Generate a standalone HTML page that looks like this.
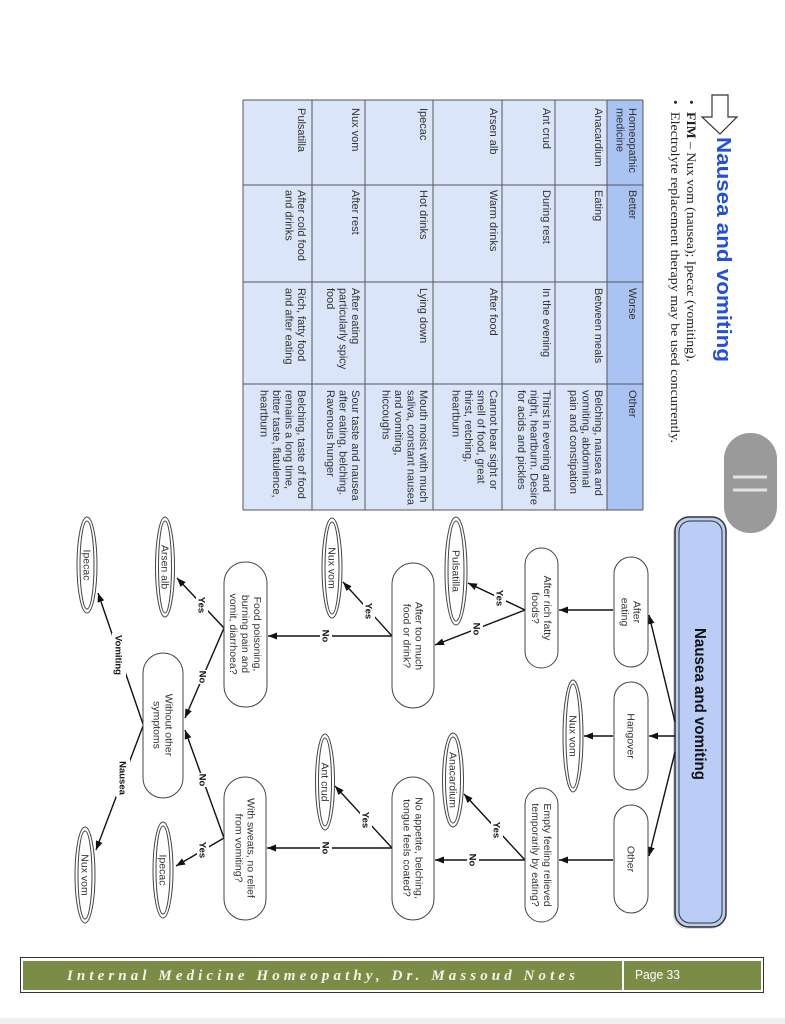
<!DOCTYPE html>
<html>
<head>
<meta charset="utf-8">
<style>
html,body{margin:0;padding:0;background:#fff;}
body{width:785px;height:1024px;overflow:hidden;position:relative;}
svg{display:block;}
.t{font-family:"Liberation Sans",sans-serif;font-size:11px;fill:#333;}
.n{font-family:"Liberation Sans",sans-serif;font-size:10.5px;fill:#333;}
.l{font-family:"Liberation Sans",sans-serif;font-size:9.5px;font-weight:bold;fill:#111;}
.s{font-family:"Liberation Serif",serif;font-size:13px;fill:#222;}
</style>
</head>
<body>
<svg width="785" height="1024" viewBox="0 0 785 1024" xmlns="http://www.w3.org/2000/svg">
<defs>
<marker id="a" markerWidth="9" markerHeight="7" refX="9" refY="3.5" orient="auto" markerUnits="userSpaceOnUse">
<path d="M0,0 L9,3.5 L0,7 z" fill="#111"/>
</marker>
</defs>
<rect x="0" y="1018" width="785" height="6" fill="#f0f0f0"/>

<!-- heading arrow -->
<path d="M712,95 L728,95 L728,117 L737,117 L720,134 L702,117 L712,117 Z" fill="#fff" stroke="#333" stroke-width="1.2"/>
<!-- title -->
<text transform="translate(717,137) rotate(90)" font-family="Liberation Sans, sans-serif" font-weight="bold" font-size="20" fill="#2350d8" textLength="225" lengthAdjust="spacingAndGlyphs">Nausea and vomiting</text>
<!-- bullets -->
<text transform="translate(687,100) rotate(90)" class="s">•</text>
<text transform="translate(687,112) rotate(90)" class="s" textLength="250" lengthAdjust="spacingAndGlyphs"><tspan font-weight="bold">FIM</tspan> – Nux vom (nausea); Ipecac (vomiting).</text>
<text transform="translate(671,100) rotate(90)" class="s">•</text>
<text transform="translate(671,112) rotate(90)" class="s" textLength="331" lengthAdjust="spacingAndGlyphs">Electrolyte replacement therapy may be used concurrently.</text>

<!-- table -->
<rect x="243" y="100" width="364" height="410" fill="#dbe5f9"/>
<rect x="607" y="100" width="36" height="410" fill="#a9c3f3"/>
<g stroke="#555" stroke-width="1">
<line x1="243" y1="100" x2="243" y2="510"/>
<line x1="312" y1="100" x2="312" y2="510"/>
<line x1="365" y1="100" x2="365" y2="510"/>
<line x1="433" y1="100" x2="433" y2="510"/>
<line x1="502" y1="100" x2="502" y2="510"/>
<line x1="555" y1="100" x2="555" y2="510"/>
<line x1="607" y1="100" x2="607" y2="510"/>
<line x1="643" y1="100" x2="643" y2="510"/>
<line x1="243" y1="100" x2="643" y2="100"/>
<line x1="243" y1="185" x2="643" y2="185"/>
<line x1="243" y1="282" x2="643" y2="282"/>
<line x1="243" y1="384" x2="643" y2="384"/>
<line x1="243" y1="510" x2="643" y2="510"/>
</g>
<!-- header -->
<text transform="translate(629,108) rotate(90)" class="t"><tspan x="0" y="0">Homeopathic</tspan><tspan x="0" y="12.5">medicine</tspan></text>
<text transform="translate(629,190) rotate(90)" class="t">Better</text>
<text transform="translate(629,288) rotate(90)" class="t">Worse</text>
<text transform="translate(629,390) rotate(90)" class="t">Other</text>
<!-- Anacardium -->
<text transform="translate(595,108) rotate(90)" class="t">Anacardium</text>
<text transform="translate(595,190) rotate(90)" class="t">Eating</text>
<text transform="translate(595,288) rotate(90)" class="t">Between meals</text>
<text transform="translate(595,390) rotate(90)" class="t"><tspan x="0" y="0">Belching, nausea and</tspan><tspan x="0" y="12.5">vomiting, abdominal</tspan><tspan x="0" y="25">pain and constipation</tspan></text>
<!-- Ant crud -->
<text transform="translate(543,108) rotate(90)" class="t">Ant crud</text>
<text transform="translate(543,190) rotate(90)" class="t">During rest</text>
<text transform="translate(543,288) rotate(90)" class="t">In the evening</text>
<text transform="translate(543,390) rotate(90)" class="t"><tspan x="0" y="0">Thirst in evening and</tspan><tspan x="0" y="12.5">night, heartburn. Desire</tspan><tspan x="0" y="25">for acids and pickles</tspan></text>
<!-- Arsen alb -->
<text transform="translate(490,108) rotate(90)" class="t">Arsen alb</text>
<text transform="translate(490,190) rotate(90)" class="t">Warm drinks</text>
<text transform="translate(490,288) rotate(90)" class="t">After food</text>
<text transform="translate(490,390) rotate(90)" class="t"><tspan x="0" y="0">Cannot bear sight or</tspan><tspan x="0" y="12.5">smell of food, great</tspan><tspan x="0" y="25">thirst, retching,</tspan><tspan x="0" y="37.5">heartburn</tspan></text>
<!-- Ipecac -->
<text transform="translate(420,108) rotate(90)" class="t">Ipecac</text>
<text transform="translate(420,190) rotate(90)" class="t">Hot drinks</text>
<text transform="translate(420,288) rotate(90)" class="t">Lying down</text>
<text transform="translate(420,390) rotate(90)" class="t"><tspan x="0" y="0">Mouth moist with much</tspan><tspan x="0" y="12.5">saliva, constant nausea</tspan><tspan x="0" y="25">and vomiting,</tspan><tspan x="0" y="37.5">hiccoughs</tspan></text>
<!-- Nux vom -->
<text transform="translate(352,108) rotate(90)" class="t">Nux vom</text>
<text transform="translate(352,190) rotate(90)" class="t">After rest</text>
<text transform="translate(352,288) rotate(90)" class="t"><tspan x="0" y="0">After eating</tspan><tspan x="0" y="12.5">particularly spicy</tspan><tspan x="0" y="25">food</tspan></text>
<text transform="translate(352,390) rotate(90)" class="t"><tspan x="0" y="0">Sour taste and nausea</tspan><tspan x="0" y="12.5">after eating, belching.</tspan><tspan x="0" y="25">Ravenous hunger</tspan></text>
<!-- Pulsatilla -->
<text transform="translate(298,108) rotate(90)" class="t">Pulsatilla</text>
<text transform="translate(298,190) rotate(90)" class="t"><tspan x="0" y="0">After cold food</tspan><tspan x="0" y="12.5">and drinks</tspan></text>
<text transform="translate(298,288) rotate(90)" class="t"><tspan x="0" y="0">Rich, fatty food</tspan><tspan x="0" y="12.5">and after eating</tspan></text>
<text transform="translate(298,390) rotate(90)" class="t"><tspan x="0" y="0">Belching, taste of food</tspan><tspan x="0" y="12.5">remains a long time,</tspan><tspan x="0" y="25">bitter taste, flatulence,</tspan><tspan x="0" y="37.5">heartburn</tspan></text>

<!-- gray pill -->
<rect x="724" y="433" width="53" height="100" rx="26" ry="26" fill="#9a9a9a"/>
<line x1="733" y1="477" x2="767" y2="477" stroke="#e2e2e2" stroke-width="3"/>
<line x1="733" y1="490" x2="767" y2="490" stroke="#e2e2e2" stroke-width="3"/>

<!-- main box -->
<rect x="673" y="519" width="52" height="410" rx="14" fill="#999" opacity="0.35"/>
<rect x="675" y="517" width="51" height="410" rx="14" fill="#b9cdf6" stroke="#333" stroke-width="1.5"/>
<rect x="679" y="521" width="43" height="402" rx="11" fill="none" stroke="#333" stroke-width="1"/>
<text transform="translate(701,704) rotate(90)" text-anchor="middle" y="6" font-family="Liberation Sans, sans-serif" font-weight="bold" font-size="16" fill="#111" textLength="152" lengthAdjust="spacingAndGlyphs">Nausea and vomiting</text>

<!-- connectors -->
<g stroke="#111" stroke-width="1.4" fill="none">
<line x1="675" y1="722" x2="649" y2="615" marker-end="url(#a)"/>
<line x1="675" y1="736" x2="649" y2="736" marker-end="url(#a)"/>
<line x1="675" y1="752" x2="649" y2="856" marker-end="url(#a)"/>
<line x1="613" y1="610" x2="559" y2="610" marker-end="url(#a)"/>
<line x1="613" y1="736" x2="584" y2="736" marker-end="url(#a)"/>
<line x1="613" y1="860" x2="559" y2="860" marker-end="url(#a)"/>
<line x1="525" y1="610" x2="468" y2="583" marker-end="url(#a)"/>
<line x1="525" y1="610" x2="435" y2="645" marker-end="url(#a)"/>
<line x1="525" y1="860" x2="464" y2="794" marker-end="url(#a)"/>
<line x1="525" y1="860" x2="435" y2="860" marker-end="url(#a)"/>
<line x1="392" y1="636" x2="343" y2="582" marker-end="url(#a)"/>
<line x1="392" y1="636" x2="268" y2="636" marker-end="url(#a)"/>
<line x1="392" y1="848" x2="335" y2="786" marker-end="url(#a)"/>
<line x1="392" y1="848" x2="267" y2="848" marker-end="url(#a)"/>
<line x1="224" y1="628" x2="177" y2="578" marker-end="url(#a)"/>
<line x1="224" y1="628" x2="185" y2="718" marker-end="url(#a)"/>
<line x1="224" y1="838" x2="176" y2="866" marker-end="url(#a)"/>
<line x1="224" y1="838" x2="185" y2="730" marker-end="url(#a)"/>
<line x1="143" y1="724" x2="98" y2="593" marker-end="url(#a)"/>
<line x1="143" y1="726" x2="96" y2="850" marker-end="url(#a)"/>
</g>

<!-- labels with white backgrounds -->
<g fill="#fff">
<rect x="494" y="588" width="12" height="20"/>
<rect x="471" y="622" width="12" height="14"/>
<rect x="491" y="820" width="12" height="20"/>
<rect x="467" y="853" width="12" height="14"/>
<rect x="363" y="601" width="12" height="20"/>
<rect x="320" y="629" width="12" height="14"/>
<rect x="360" y="810" width="12" height="20"/>
<rect x="320" y="841" width="12" height="14"/>
<rect x="196" y="595" width="12" height="20"/>
<rect x="197" y="670" width="12" height="14"/>
<rect x="197" y="840" width="12" height="20"/>
<rect x="197" y="773" width="12" height="14"/>
<rect x="112" y="633" width="14" height="44"/>
<rect x="116" y="759" width="14" height="38"/>
</g>
<text class="l" transform="translate(500,598) rotate(90)" text-anchor="middle" y="3.3">Yes</text>
<text class="l" transform="translate(477,629) rotate(90)" text-anchor="middle" y="3.3">No</text>
<text class="l" transform="translate(497,830) rotate(90)" text-anchor="middle" y="3.3">Yes</text>
<text class="l" transform="translate(473,860) rotate(90)" text-anchor="middle" y="3.3">No</text>
<text class="l" transform="translate(369,611) rotate(90)" text-anchor="middle" y="3.3">Yes</text>
<text class="l" transform="translate(326,636) rotate(90)" text-anchor="middle" y="3.3">No</text>
<text class="l" transform="translate(366,820) rotate(90)" text-anchor="middle" y="3.3">Yes</text>
<text class="l" transform="translate(326,848) rotate(90)" text-anchor="middle" y="3.3">No</text>
<text class="l" transform="translate(202,605) rotate(90)" text-anchor="middle" y="3.3">Yes</text>
<text class="l" transform="translate(203,677) rotate(90)" text-anchor="middle" y="3.3">No</text>
<text class="l" transform="translate(203,850) rotate(90)" text-anchor="middle" y="3.3">Yes</text>
<text class="l" transform="translate(203,780) rotate(90)" text-anchor="middle" y="3.3">No</text>
<text class="l" transform="translate(119,655) rotate(90)" text-anchor="middle" y="3.3">Vomiting</text>
<text class="l" transform="translate(123,778) rotate(90)" text-anchor="middle" y="3.3">Nausea</text>

<!-- process nodes -->
<g fill="#fff" stroke="#444" stroke-width="1">
<rect x="614" y="557" width="34" height="110" rx="17" ry="17"/>
<rect x="614" y="682" width="34" height="108" rx="17" ry="17"/>
<rect x="614" y="805" width="34" height="108" rx="17" ry="17"/>
<rect x="525" y="548" width="33" height="120" rx="16.5" ry="16.5"/>
<rect x="525" y="788" width="33" height="134" rx="16.5" ry="16.5"/>
<rect x="392" y="563" width="42" height="145" rx="21" ry="21"/>
<rect x="392" y="777" width="42" height="143" rx="21" ry="21"/>
<rect x="224" y="562" width="43" height="145" rx="21" ry="21"/>
<rect x="224" y="777" width="42" height="143" rx="21" ry="21"/>
<rect x="143" y="653" width="40" height="145" rx="20" ry="20"/>
</g>
<text class="n" transform="translate(631,612) rotate(90)" text-anchor="middle"><tspan x="0" y="-2.3">After</tspan><tspan x="0" y="9.7">eating</tspan></text>
<text class="n" transform="translate(631,736) rotate(90)" text-anchor="middle" y="3.7">Hangover</text>
<text class="n" transform="translate(631,859) rotate(90)" text-anchor="middle" y="3.7">Other</text>
<text class="n" transform="translate(541.5,608) rotate(90)" text-anchor="middle"><tspan x="0" y="-2.3">After rich fatty</tspan><tspan x="0" y="9.7">foods?</tspan></text>
<text class="n" transform="translate(541.5,855) rotate(90)" text-anchor="middle"><tspan x="0" y="-2.3">Empty feeling relieved</tspan><tspan x="0" y="9.7">temporarily by eating?</tspan></text>
<text class="n" transform="translate(413,636) rotate(90)" text-anchor="middle"><tspan x="0" y="-2.3">After too much</tspan><tspan x="0" y="9.7">food or drink?</tspan></text>
<text class="n" transform="translate(413,848) rotate(90)" text-anchor="middle"><tspan x="0" y="-2.3">No appetite, belching,</tspan><tspan x="0" y="9.7">tongue feels coated?</tspan></text>
<text class="n" transform="translate(245.5,634) rotate(90)" text-anchor="middle"><tspan x="0" y="-8.3">Food poisoning,</tspan><tspan x="0" y="3.7">burning pain and</tspan><tspan x="0" y="15.7">vomit, diarrhoea?</tspan></text>
<text class="n" transform="translate(245,848) rotate(90)" text-anchor="middle"><tspan x="0" y="-2.3">With sweats, no relief</tspan><tspan x="0" y="9.7">from vomiting?</tspan></text>
<text class="n" transform="translate(163,725) rotate(90)" text-anchor="middle"><tspan x="0" y="-2.3">Without other</tspan><tspan x="0" y="9.7">symptoms</tspan></text>

<!-- remedy ellipses -->
<g fill="#fff" stroke="#444" stroke-width="1">
<ellipse cx="573" cy="736" rx="10" ry="56"/><ellipse cx="573" cy="736" rx="7" ry="52"/>
<ellipse cx="456" cy="571" rx="11" ry="54"/><ellipse cx="456" cy="571" rx="8" ry="50"/>
<ellipse cx="453" cy="780" rx="10.5" ry="47"/><ellipse cx="453" cy="780" rx="7.5" ry="43"/>
<ellipse cx="332" cy="568" rx="10" ry="50"/><ellipse cx="332" cy="568" rx="7" ry="46"/>
<ellipse cx="325" cy="782" rx="9.5" ry="48"/><ellipse cx="325" cy="782" rx="6.5" ry="44"/>
<ellipse cx="165" cy="567" rx="9.5" ry="50"/><ellipse cx="165" cy="567" rx="6.5" ry="46"/>
<ellipse cx="163" cy="870" rx="10" ry="48"/><ellipse cx="163" cy="870" rx="7" ry="44"/>
<ellipse cx="87" cy="565" rx="10" ry="48"/><ellipse cx="87" cy="565" rx="7" ry="44"/>
<ellipse cx="85" cy="875" rx="10" ry="48"/><ellipse cx="85" cy="875" rx="7" ry="44"/>
</g>
<text class="n" transform="translate(573,736) rotate(90)" text-anchor="middle" y="3.7">Nux vom</text>
<text class="n" transform="translate(456,571) rotate(90)" text-anchor="middle" y="3.7">Pulsatilla</text>
<text class="n" transform="translate(453,780) rotate(90)" text-anchor="middle" y="3.7">Anacardium</text>
<text class="n" transform="translate(332,568) rotate(90)" text-anchor="middle" y="3.7">Nux vom</text>
<text class="n" transform="translate(325,782) rotate(90)" text-anchor="middle" y="3.7">Ant crud</text>
<text class="n" transform="translate(165,567) rotate(90)" text-anchor="middle" y="3.7">Arsen alb</text>
<text class="n" transform="translate(163,870) rotate(90)" text-anchor="middle" y="3.7">Ipecac</text>
<text class="n" transform="translate(87,565) rotate(90)" text-anchor="middle" y="3.7">Ipecac</text>
<text class="n" transform="translate(85,875) rotate(90)" text-anchor="middle" y="3.7">Nux vom</text>

<!-- footer -->
<rect x="20.5" y="957.5" width="743" height="35" fill="#fff" stroke="#333" stroke-width="1"/>
<rect x="23" y="961" width="738" height="29" fill="#7b8c46"/>
<line x1="623" y1="961" x2="623" y2="990" stroke="#fff" stroke-width="2"/>
<text x="67" y="980" font-family="Liberation Serif, serif" font-style="italic" font-weight="bold" font-size="15" fill="#f4f4ea" textLength="508" lengthAdjust="spacing">Internal Medicine Homeopathy, Dr. Massoud Notes</text>
<text x="635" y="979" font-family="Liberation Sans Narrow, Liberation Sans, sans-serif" font-size="12.5" fill="#fff" textLength="45" lengthAdjust="spacingAndGlyphs">Page 33</text>
</svg>
</body>
</html>
